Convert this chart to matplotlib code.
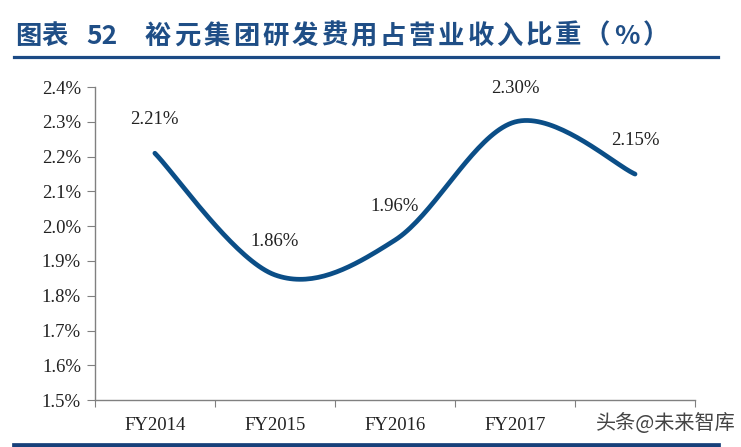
import matplotlib
matplotlib.use("Agg")
import matplotlib.pyplot as plt
from matplotlib.lines import Line2D
import numpy as np

plt.rcParams['font.family'] = ['Liberation Serif', 'Noto Sans CJK SC', 'DejaVu Sans']

# data
years = ['FY2014', 'FY2015', 'FY2016', 'FY2017', 'FY2018']
rd_ratio = [2.21, 1.86, 1.96, 2.30, 2.15]
y_ticks = [1.5, 1.6, 1.7, 1.8, 1.9, 2.0, 2.1, 2.2, 2.3, 2.4]

title_head = '图表'
title_num = '52'
title_body = '裕元集团研发费用占营业收入比重'
title_unit = ['（', '%', '）']
line_color = '#0b4e87'
title_color = '#1f4e86'

W, H = 741, 447


def smooth(xs, ys, n=40):
    # excel-like smoothed line (catmull-rom through the points)
    px = [xs[0]] + list(xs) + [xs[-1]]
    py = [ys[0]] + list(ys) + [ys[-1]]
    out_x, out_y = [], []
    for i in range(1, len(px) - 2):
        t = np.linspace(0, 1, n)
        for arr, out in ((px, out_x), (py, out_y)):
            p0, p1, p2, p3 = arr[i - 1], arr[i], arr[i + 1], arr[i + 2]
            c1 = p1 + (p2 - p0) / 6
            c2 = p2 - (p3 - p1) / 6
            out.extend((1 - t) ** 3 * p1 + 3 * (1 - t) ** 2 * t * c1
                       + 3 * (1 - t) * t ** 2 * c2 + t ** 3 * p2)
    return out_x, out_y


fig = plt.figure(figsize=(W / 100, H / 100), dpi=100)
ax = fig.add_axes([0.128, 0.105, 0.81, 0.70])

x = np.arange(len(years), dtype=float)
sx, sy = smooth(x, rd_ratio)
ax.plot(sx, sy, color=line_color, linewidth=3.4, solid_capstyle='round')

for xi, v in zip(x, rd_ratio):
    ax.annotate(f'{v:.2f}%', (xi, v), xytext=(0, 24), textcoords='offset points',
                ha='center', va='center', fontsize=13.5, color='#222222')

ax.set_xlim(-0.5, len(years) - 0.5)
ax.set_ylim(1.5, 2.4)
ax.set_yticks(y_ticks)
ax.set_yticklabels([f'{t:.1f}%' for t in y_ticks])
ax.set_xticks(np.arange(len(years) + 1) - 0.5)
ax.set_xticklabels([])
# last category label is hidden under the watermark in the source
ax.set_xticks(x[:-1], minor=True)
ax.set_xticklabels(years[:-1], minor=True)
ax.tick_params(axis='x', which='minor', length=0, pad=12, labelsize=13.5, labelcolor='#222222')
ax.tick_params(axis='x', which='major', length=5, color='#808080')
ax.tick_params(axis='y', length=6, color='#808080', labelsize=13.5, labelcolor='#222222', pad=4)

for s in ['top', 'right']:
    ax.spines[s].set_visible(False)
for s in ['left', 'bottom']:
    ax.spines[s].set_color('#808080')
    ax.spines[s].set_linewidth(1.0)

# title, laid out with the wide letter spacing of the source
cjk = ['Noto Sans CJK SC', 'DejaVu Sans']
ty = 1 - 36 / H
tkw = dict(fontsize=19, fontweight='bold', color=title_color, family=cjk, va='center')
for i, ch in enumerate(title_head):
    fig.text((15 + i * 26) / W, ty, ch, ha='left', **tkw)
fig.text(86 / W, ty, title_num, ha='left', **tkw)
for i, ch in enumerate(title_body):
    fig.text((145 + i * 29.3) / W, ty, ch, ha='left', **tkw)
fig.text(610 / W, ty, title_unit[0], ha='right', **tkw)
fig.text(614 / W, ty, title_unit[1], ha='left', **tkw)
fig.text(643 / W, ty, title_unit[2], ha='left', **tkw)

fig.add_artist(Line2D([14 / W, 718 / W], [1 - 57 / H, 1 - 57 / H], color='#1b4a85', linewidth=2.3))
fig.add_artist(Line2D([14 / W, 718 / W], [1 - 445 / H, 1 - 445 / H], color='#17407a', linewidth=3.4))

# watermark
fig.text(736 / W, 1 - 423 / H, '头条@未来智库', fontsize=14.5, color='#444444',
         family=['Noto Sans CJK SC'], ha='right', va='center')

fig.savefig('out.png', dpi=100)
